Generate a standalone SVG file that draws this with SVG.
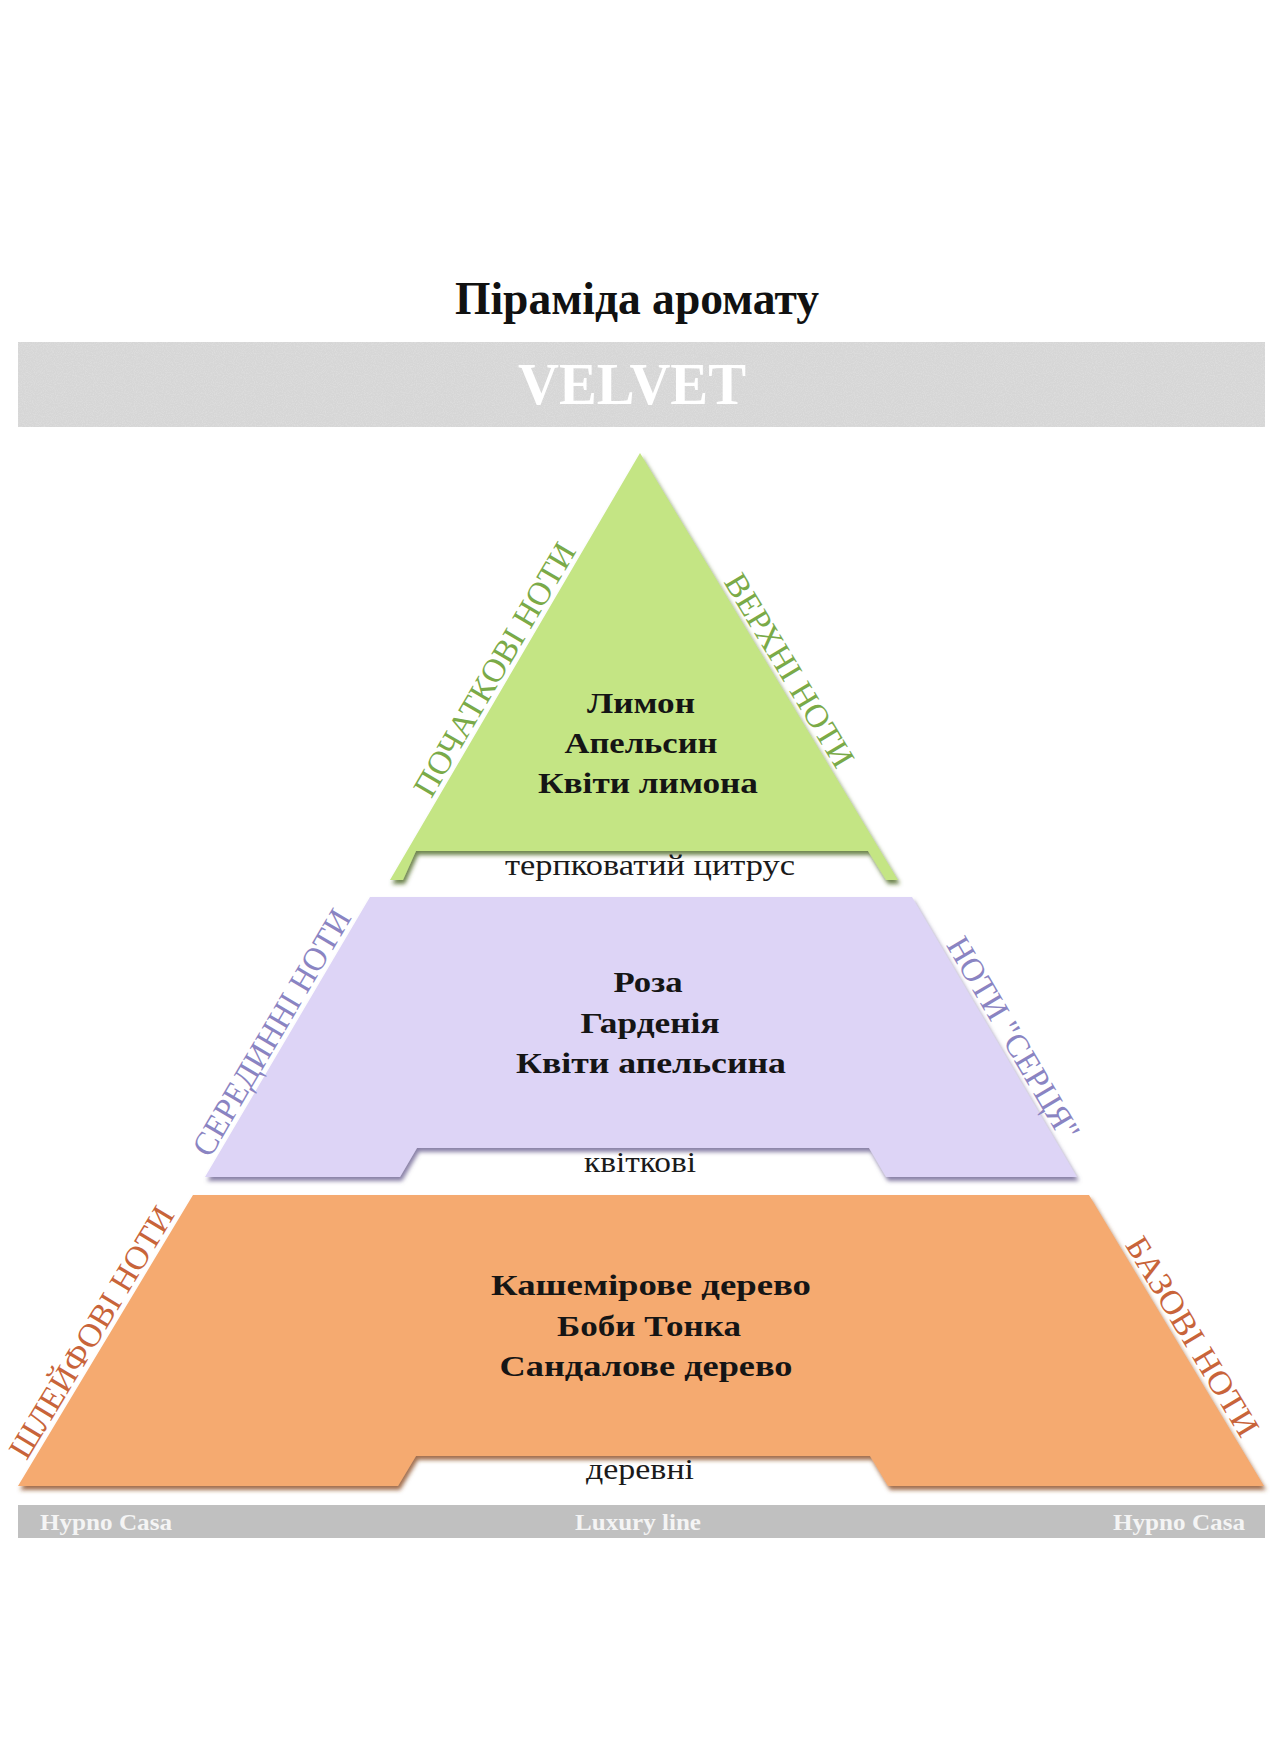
<svg xmlns="http://www.w3.org/2000/svg" width="1284" height="1759" viewBox="0 0 1284 1759">
  <style>
    .serif { font-family: "Liberation Serif", "DejaVu Serif", serif; }
    .title { font-size: 47px; font-weight: bold; fill: #111; }
    .brand { font-size: 60px; font-weight: bold; fill: #ffffff; }
    .note { font-size: 30px; font-weight: bold; fill: #151515; }
    .sub { font-size: 29px; fill: #1a1a1a; }
    .side { font-size: 33px; }
    .green { fill: #7aaa48; }
    .violet { fill: #8a84c2; }
    .amber { fill: #c8643a; }
    .foot { font-size: 23px; font-weight: bold; fill: #f4f4f4; }
  </style>
  <defs>
    <filter id="shGreen" x="-5%" y="-5%" width="110%" height="115%">
      <feDropShadow dx="2" dy="4" stdDeviation="2" flood-color="#4a6622" flood-opacity="0.8"/>
    </filter>
    <filter id="shViolet" x="-5%" y="-5%" width="110%" height="115%">
      <feDropShadow dx="2" dy="4" stdDeviation="2" flood-color="#6a6090" flood-opacity="0.8"/>
    </filter>
    <filter id="shAmber" x="-5%" y="-5%" width="110%" height="115%">
      <feDropShadow dx="2" dy="4" stdDeviation="2" flood-color="#8a4a24" flood-opacity="0.8"/>
    </filter>
    <!-- fine grain for the name band -->
    <filter id="grain" x="0" y="0" width="100%" height="100%">
      <feTurbulence type="fractalNoise" baseFrequency="0.9" numOctaves="2" seed="3" result="n"/>
      <feColorMatrix in="n" type="matrix" values="0 0 0 0 1  0 0 0 0 1  0 0 0 0 1  0 0 0 0.35 -0.12" result="speck"/>
      <feComposite in="speck" in2="SourceGraphic" operator="in" result="s"/>
      <feMerge><feMergeNode in="SourceGraphic"/><feMergeNode in="s"/></feMerge>
    </filter>
  </defs>

  <rect width="1284" height="1759" fill="#ffffff"/>

  <!-- heading -->
  <g id="heading">
    <text class="serif title" x="637" y="314" text-anchor="middle" textLength="364" lengthAdjust="spacingAndGlyphs">Піраміда аромату</text>
  </g>

  <!-- name band -->
  <g id="name-band">
    <rect x="18" y="342" width="1247" height="85" fill="#d6d6d6" filter="url(#grain)"/>
    <text class="serif brand" x="632" y="404" text-anchor="middle" textLength="228" lengthAdjust="spacingAndGlyphs">VELVET</text>
  </g>

  <!-- top tier -->
  <g id="tier-top">
    <path d="M640,453 L898,880 L886,880 L868,851 L416,851 L403,880 L390,880 Z" fill="#c4e584" filter="url(#shGreen)"/>
    <text class="serif note" x="641" y="713" text-anchor="middle" textLength="108" lengthAdjust="spacingAndGlyphs">Лимон</text>
    <text class="serif note" x="641" y="753" text-anchor="middle" textLength="153" lengthAdjust="spacingAndGlyphs">Апельсин</text>
    <text class="serif note" x="648" y="793" text-anchor="middle" textLength="220" lengthAdjust="spacingAndGlyphs">Квіти лимона</text>
    <text class="serif sub" x="650" y="875" text-anchor="middle" textLength="290" lengthAdjust="spacingAndGlyphs">терпковатий цитрус</text>
    <text class="serif side green" transform="translate(504,675) rotate(-59.6)" text-anchor="middle" textLength="288" lengthAdjust="spacingAndGlyphs">ПОЧАТКОВІ НОТИ</text>
    <text class="serif side green" transform="translate(780,676) rotate(58.9)" text-anchor="middle" textLength="220" lengthAdjust="spacingAndGlyphs">ВЕРХНІ НОТИ</text>
  </g>

  <!-- middle tier -->
  <g id="tier-middle">
    <path d="M370,897 L912,897 L1077,1177 L886,1177 L869,1148 L417,1148 L400,1177 L205,1177 Z" fill="#ddd4f6" filter="url(#shViolet)"/>
    <text class="serif note" x="648" y="992" text-anchor="middle" textLength="69" lengthAdjust="spacingAndGlyphs">Роза</text>
    <text class="serif note" x="650" y="1033" text-anchor="middle" textLength="139" lengthAdjust="spacingAndGlyphs">Гарденія</text>
    <text class="serif note" x="651" y="1073" text-anchor="middle" textLength="270" lengthAdjust="spacingAndGlyphs">Квіти апельсина</text>
    <text class="serif sub" x="640" y="1172" text-anchor="middle" textLength="112" lengthAdjust="spacingAndGlyphs">квіткові</text>
    <text class="serif side violet" transform="translate(281,1038) rotate(-59.5)" text-anchor="middle" textLength="280" lengthAdjust="spacingAndGlyphs">СЕРЕДИННІ НОТИ</text>
    <text class="serif side violet" transform="translate(1004,1044) rotate(59.5)" text-anchor="middle" textLength="230" lengthAdjust="spacingAndGlyphs">НОТИ "СЕРЦЯ"</text>
  </g>

  <!-- bottom tier -->
  <g id="tier-bottom">
    <path d="M193,1195 L1089,1195 L1264,1486 L888,1486 L870,1456 L416,1456 L398,1486 L18,1486 Z" fill="#f5aa6f" filter="url(#shAmber)"/>
    <text class="serif note" x="651" y="1295" text-anchor="middle" textLength="320" lengthAdjust="spacingAndGlyphs">Кашемірове дерево</text>
    <text class="serif note" x="649" y="1336" text-anchor="middle" textLength="184" lengthAdjust="spacingAndGlyphs">Боби Тонка</text>
    <text class="serif note" x="646" y="1376" text-anchor="middle" textLength="293" lengthAdjust="spacingAndGlyphs">Сандалове дерево</text>
    <text class="serif sub" x="640" y="1479" text-anchor="middle" textLength="108" lengthAdjust="spacingAndGlyphs">деревні</text>
    <text class="serif side amber" transform="translate(101,1338) rotate(-58.9)" text-anchor="middle" textLength="288" lengthAdjust="spacingAndGlyphs">ШЛЕЙФОВІ НОТИ</text>
    <text class="serif side amber" transform="translate(1183,1342) rotate(59)" text-anchor="middle" textLength="227" lengthAdjust="spacingAndGlyphs">БАЗОВІ НОТИ</text>
  </g>

  <!-- footer band -->
  <g id="footer-band">
    <rect x="18" y="1505" width="1247" height="33" fill="#c0c0c0"/>
    <text class="serif foot" x="40" y="1530" textLength="132" lengthAdjust="spacingAndGlyphs">Hypno Casa</text>
    <text class="serif foot" x="638" y="1530" text-anchor="middle" textLength="126" lengthAdjust="spacingAndGlyphs">Luxury line</text>
    <text class="serif foot" x="1245" y="1530" text-anchor="end" textLength="132" lengthAdjust="spacingAndGlyphs">Hypno Casa</text>
  </g>
</svg>
